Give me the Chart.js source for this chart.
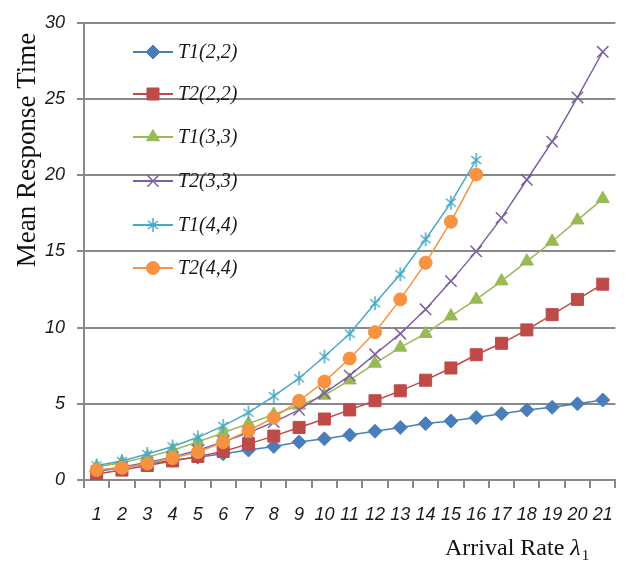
<!DOCTYPE html>
<html>
<head>
<meta charset="utf-8">
<script src="https://cdn.jsdelivr.net/npm/chart.js@4.4.1/dist/chart.umd.min.js"></script>
<style>
  html, body { margin: 0; padding: 0; background: #fff; }
  #wrap { width: 629px; height: 562px; }
</style>
</head>
<body>
<div id="wrap"><canvas id="responseChart" width="629" height="562"></canvas></div>
<script>
// arrival rate categories
const arrivalRates = ['1','2','3','4','5','6','7','8','9','10','11','12','13','14','15','16','17','18','19','20','21'];
const yTicks = [0, 5, 10, 15, 20, 25, 30];

// mean response time per series
const t1_22 = [0.55, 0.8, 1.05, 1.3, 1.5, 1.72, 1.97, 2.2, 2.5, 2.7, 2.95, 3.2, 3.45, 3.7, 3.87, 4.1, 4.35, 4.6, 4.77, 5.0, 5.25];
const t2_22 = [0.4, 0.65, 0.95, 1.25, 1.55, 1.87, 2.37, 2.88, 3.45, 4.0, 4.6, 5.2, 5.85, 6.55, 7.35, 8.22, 8.97, 9.85, 10.85, 11.85, 12.85];
const t1_33 = [0.85, 1.15, 1.5, 1.95, 2.5, 3.1, 3.7, 4.3, 4.9, 5.55, 6.55, 7.65, 8.7, 9.6, 10.75, 11.85, 13.05, 14.35, 15.65, 17.05, 18.45];
const t2_33 = [0.6, 0.85, 1.15, 1.5, 1.95, 2.5, 3.1, 3.8, 4.6, 5.7, 6.85, 8.25, 9.6, 11.2, 13.05, 15.0, 17.2, 19.7, 22.2, 25.1, 28.1];
const t1_44 = [0.95, 1.25, 1.7, 2.2, 2.8, 3.55, 4.42, 5.5, 6.68, 8.1, 9.6, 11.6, 13.5, 15.8, 18.2, 21.0];
const t2_44 = [0.65, 0.8, 1.08, 1.44, 1.83, 2.48, 3.23, 4.09, 5.2, 6.46, 7.97, 9.7, 11.85, 14.25, 16.95, 20.05];

const seriesNames = ['T1(2,2)', 'T2(2,2)', 'T1(3,3)', 'T2(3,3)', 'T1(4,4)', 'T2(4,4)'];
const seriesData = [t1_22, t2_22, t1_33, t2_33, t1_44, t2_44];
const seriesColors = ['#4a7ebb', '#be4b48', '#98b954', '#7d60a0', '#46aac5', '#f69240'];

const gridGray = '#898989';
const tickFont = { family: '"Liberation Sans", Arial, sans-serif', size: 18, style: 'italic' };

// Excel-like asterisk marker (vertical bar + X)
function asteriskMarker(color) {
    const c = document.createElement('canvas');
    c.width = 16; c.height = 16;
    const g = c.getContext('2d');
    g.strokeStyle = color;
    g.lineWidth = 1.5;
    g.beginPath();
    g.moveTo(8, 1); g.lineTo(8, 15);
    g.moveTo(3, 4); g.lineTo(13, 12);
    g.moveTo(13, 4); g.lineTo(3, 12);
    g.stroke();
    return c;
}

const markerStyles = ['rectRot', 'rect', 'triangle', 'crossRot', asteriskMarker(seriesColors[4]), 'circle'];
const markerSizes = [7, 8.5, 7.5, 8, 7, 6.5];

function buildDatasets() {
    return seriesNames.map((name, i) => ({
        label: name,
        data: seriesData[i],
        order: seriesNames.length - i, // later series on top
        borderColor: seriesColors[i],
        backgroundColor: seriesColors[i],
        pointBackgroundColor: seriesColors[i],
        pointBorderColor: seriesColors[i],
        pointStyle: markerStyles[i],
        pointRadius: markerSizes[i],
        pointBorderWidth: markerStyles[i] === 'crossRot' ? 1.5 : 1,
        borderWidth: 1.5,
        tension: 0,
        fill: false
    }));
}

// legend inside the plot + axis titles, drawn by hand
const overlayPlugin = {
    id: 'overlay',
    afterDraw(chart) {
        const ctx = chart.ctx;
        const drawPoint = Chart.helpers && Chart.helpers.drawPoint;

        // legend
        const rowY = [52, 94, 137, 181, 225, 268];
        chart.data.datasets.forEach((ds, i) => {
            const y = rowY[i];
            ctx.save();
            ctx.strokeStyle = ds.borderColor;
            ctx.lineWidth = 2;
            ctx.beginPath();
            ctx.moveTo(133, y);
            ctx.lineTo(173, y);
            ctx.stroke();
            ctx.fillStyle = ds.pointBackgroundColor;
            ctx.strokeStyle = ds.pointBorderColor;
            ctx.lineWidth = ds.pointBorderWidth;
            if (drawPoint) {
                drawPoint(ctx, { pointStyle: ds.pointStyle, radius: ds.pointRadius, rotation: 0, borderWidth: ds.pointBorderWidth }, 153, y);
            }
            ctx.fillStyle = '#1a1a1a';
            ctx.font = 'italic 20px "Liberation Serif", "Times New Roman", serif';
            ctx.textBaseline = 'middle';
            ctx.textAlign = 'left';
            ctx.fillText(ds.label, 178, y + 1);
            ctx.restore();
        });

        // y title
        ctx.save();
        ctx.fillStyle = '#111';
        ctx.font = '27px "Liberation Serif", "Times New Roman", serif';
        ctx.translate(28, 150);
        ctx.rotate(-Math.PI / 2);
        ctx.textAlign = 'center';
        ctx.textBaseline = 'middle';
        ctx.fillText('Mean Response Time', 0, 0);
        ctx.restore();

        // x title
        ctx.save();
        ctx.fillStyle = '#111';
        ctx.textBaseline = 'alphabetic';
        ctx.textAlign = 'left';
        let x = 445;
        const base = 555;
        ctx.font = '24px "Liberation Serif", "Times New Roman", serif';
        ctx.fillText('Arrival Rate ', x, base);
        x += ctx.measureText('Arrival Rate ').width;
        ctx.font = 'italic 24px "Liberation Serif", "Times New Roman", serif';
        ctx.fillText('λ', x, base);
        x += ctx.measureText('λ').width + 1;
        ctx.font = '15px "Liberation Serif", "Times New Roman", serif';
        ctx.fillText('1', x, base + 5);
        ctx.restore();
    }
};

const ctx = document.getElementById('responseChart').getContext('2d');
const responseChart = new Chart(ctx, {
    type: 'line',
    data: {
        labels: arrivalRates,
        datasets: buildDatasets()
    },
    options: {
        responsive: false,
        animation: false,
        devicePixelRatio: 1,
        layout: { padding: { left: 0, right: 10, top: 16, bottom: 0 } },
        scales: {
            x: {
                type: 'category',
                offset: true,
                afterFit: s => { s.height = 82; },
                grid: {
                    offset: true,
                    drawOnChartArea: false,
                    drawTicks: true,
                    tickLength: 8,
                    color: gridGray,
                    lineWidth: 2
                },
                border: { color: gridGray, width: 2 },
                ticks: {
                    font: tickFont,
                    color: '#1a1a1a',
                    padding: 16,
                    maxRotation: 0,
                    autoSkip: false
                }
            },
            y: {
                min: yTicks[0],
                max: yTicks[yTicks.length - 1],
                afterFit: s => { s.width = 84; },
                afterBuildTicks: s => { s.ticks = yTicks.map(v => ({ value: v })); },
                grid: {
                    color: gridGray,
                    lineWidth: 2,
                    tickLength: 7
                },
                border: { color: gridGray, width: 2 },
                ticks: {
                    font: tickFont,
                    color: '#1a1a1a',
                    padding: 12
                }
            }
        },
        plugins: {
            legend: { display: false },
            tooltip: { enabled: false }
        }
    },
    plugins: [overlayPlugin]
});
</script>
</body>
</html>
